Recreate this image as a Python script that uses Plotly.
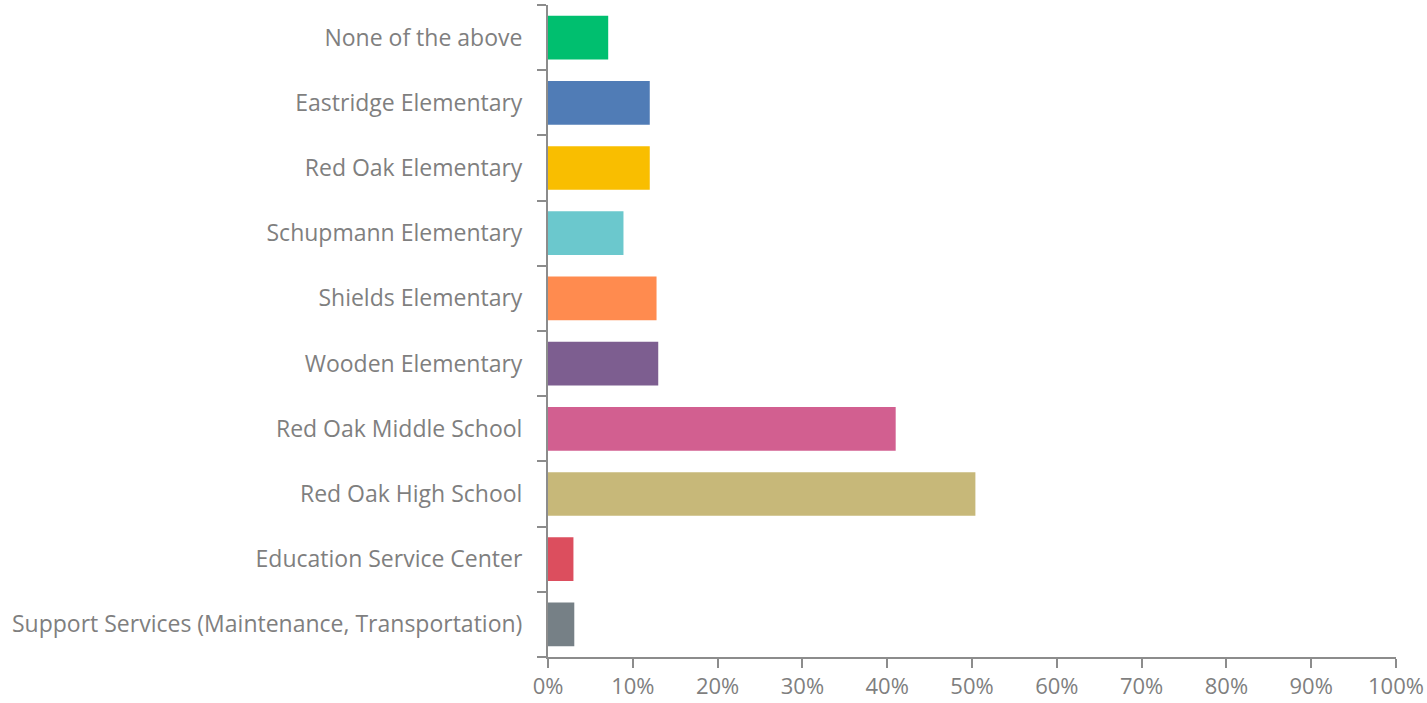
import plotly.graph_objects as go

categories = [
    "Support Services (Maintenance, Transportation)",
    "Education Service Center",
    "Red Oak High School",
    "Red Oak Middle School",
    "Wooden Elementary",
    "Shields Elementary",
    "Schupmann Elementary",
    "Red Oak Elementary",
    "Eastridge Elementary",
    "None of the above",
]
values = [3.1, 3.0, 50.4, 41.0, 13.0, 12.8, 8.9, 12.0, 12.0, 7.1]
colors = ["#768086", "#DC4E5E", "#C7B879", "#D25F90", "#7D5E90",
          "#FF8B4F", "#6BC8CD", "#F9BE00", "#507CB6", "#00BF6F"]
x_ticks = [0, 10, 20, 30, 40, 50, 60, 70, 80, 90, 100]
x_tick_labels = [f"{v}%" for v in x_ticks]

fig = go.Figure(go.Bar(
    y=categories, x=values, orientation="h",
    marker=dict(color=colors, line=dict(width=0)),
    hoverinfo="x+y",
))

fig.update_layout(
    width=1427, height=703,
    margin=dict(l=548, r=31, t=5, b=46, autoexpand=False),
    paper_bgcolor="white", plot_bgcolor="white",
    font=dict(family="Open Sans, Noto Sans, sans-serif", size=23, color="#7F7F7F"),
    bargap=0.33,
    showlegend=False,
)
fig.update_xaxes(
    range=[0, 100], tickvals=x_ticks, ticktext=x_tick_labels,
    showgrid=False, zeroline=False,
    showline=True, linecolor="#8C8C8C", linewidth=2,
    ticks="outside", ticklen=9, tickwidth=2, tickcolor="#8C8C8C",
    ticklabelstandoff=0,
    tickfont=dict(size=22, color="#7F7F7F"),
    automargin=False,
)
fig.update_yaxes(
    type="category", categoryorder="array", categoryarray=categories,
    showgrid=False, zeroline=False,
    showline=True, linecolor="#8C8C8C", linewidth=2,
    ticks="outside", ticklen=9, tickwidth=2, tickcolor="#8C8C8C",
    tickson="boundaries",
    ticklabelstandoff=19,
    tickfont=dict(size=23, color="#7F7F7F"),
    automargin=False,
)

fig.write_html("out.html", config={"displayModeBar": False},
               post_script="document.body.style.margin='0';")
